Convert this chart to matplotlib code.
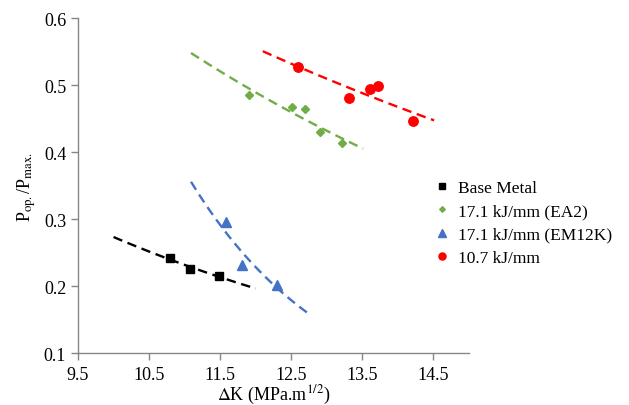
import numpy as np
import matplotlib
matplotlib.use("Agg")
import matplotlib.pyplot as plt

plt.rcParams['font.family'] = ['Liberation Serif', 'DejaVu Serif']
plt.rcParams['mathtext.fontset'] = 'stix'

# Data
base_x = [10.79, 11.08, 11.49]
base_y = [0.242, 0.225, 0.215]
ea2_x = [11.90, 12.51, 12.70, 12.91, 13.21]
ea2_y = [0.4855, 0.4676, 0.4642, 0.4294, 0.4134]
em12k_x = [11.58, 11.81, 12.30]
em12k_y = [0.295, 0.232, 0.202]
hi_x = [12.60, 13.31, 13.61, 13.72, 14.21]
hi_y = [0.5264, 0.480, 0.494, 0.498, 0.447]

labels = ["Base Metal", "17.1 kJ/mm (EA2)", "17.1 kJ/mm (EM12K)", "10.7 kJ/mm"]
# trendline x-ranges
base_rng = (10.0, 12.0)
ea2_rng = (11.09, 13.51)
em12k_rng = (11.09, 12.78)
hi_rng = (12.10, 14.51)

xticks = [9.5, 10.5, 11.5, 12.5, 13.5, 14.5]
yticks = [0.1, 0.2, 0.3, 0.4, 0.5, 0.6]

fig = plt.figure(figsize=(6.29, 4.06), dpi=100)
ax = fig.add_axes([0.124, 0.128, 0.6216, 0.825])

series = [
    (base_x, base_y, base_rng, 'black', 's', 5.5, labels[0]),
    (ea2_x, ea2_y, ea2_rng, '#70AD47', 'D', 3.8, labels[1]),
    (em12k_x, em12k_y, em12k_rng, '#4472C4', '^', 7, labels[2]),
    (hi_x, hi_y, hi_rng, '#FF0000', 'o', 6.8, labels[3]),
]

handles = []
for xs, ys, rng, c, m, ms, lab in series:
    xs = np.array(xs); ys = np.array(ys)
    b, a = np.polyfit(xs, np.log(ys), 1)
    xf = np.linspace(rng[0], rng[1], 100)
    ax.plot(xf, np.exp(a + b * xf), color=c, lw=1.7, dashes=(4, 2.4), zorder=2)
    h, = ax.plot(xs, ys, linestyle='none', marker=m, color=c, ms=ms, zorder=3, label=lab)
    handles.append(h)

ax.set_xlim(9.5, 15.0)
ax.set_ylim(0.1, 0.6)
ax.set_xticks(xticks)
ax.set_yticks(yticks)
ax.set_xticklabels([f"{v:.1f}" for v in xticks])
ax.set_yticklabels([f"{v:.1f}" for v in yticks])

for s in ['top', 'right']:
    ax.spines[s].set_visible(False)
for s in ['left', 'bottom']:
    ax.spines[s].set_color('#868686')
    ax.spines[s].set_linewidth(1.0)
ax.tick_params(axis='both', direction='out', length=5, color='#868686',
               labelsize=13, width=1.0)
ax.tick_params(axis='x', pad=4)

ax.set_xlabel(r'$\Delta$K (MPa.m$^{1/2}$)', fontsize=13, labelpad=0)
ax.set_ylabel(r'P$_{\mathrm{op.}}$/P$_{\mathrm{max.}}$', fontsize=13, labelpad=4)

leg = fig.legend(handles=handles, loc='upper left', bbox_to_anchor=(0.67, 0.592),
                 frameon=False, fontsize=12.5, handlelength=0.6, handletextpad=0.6,
                 labelspacing=0.4, markerscale=0.75)

fig.savefig('out.png', dpi=100)
